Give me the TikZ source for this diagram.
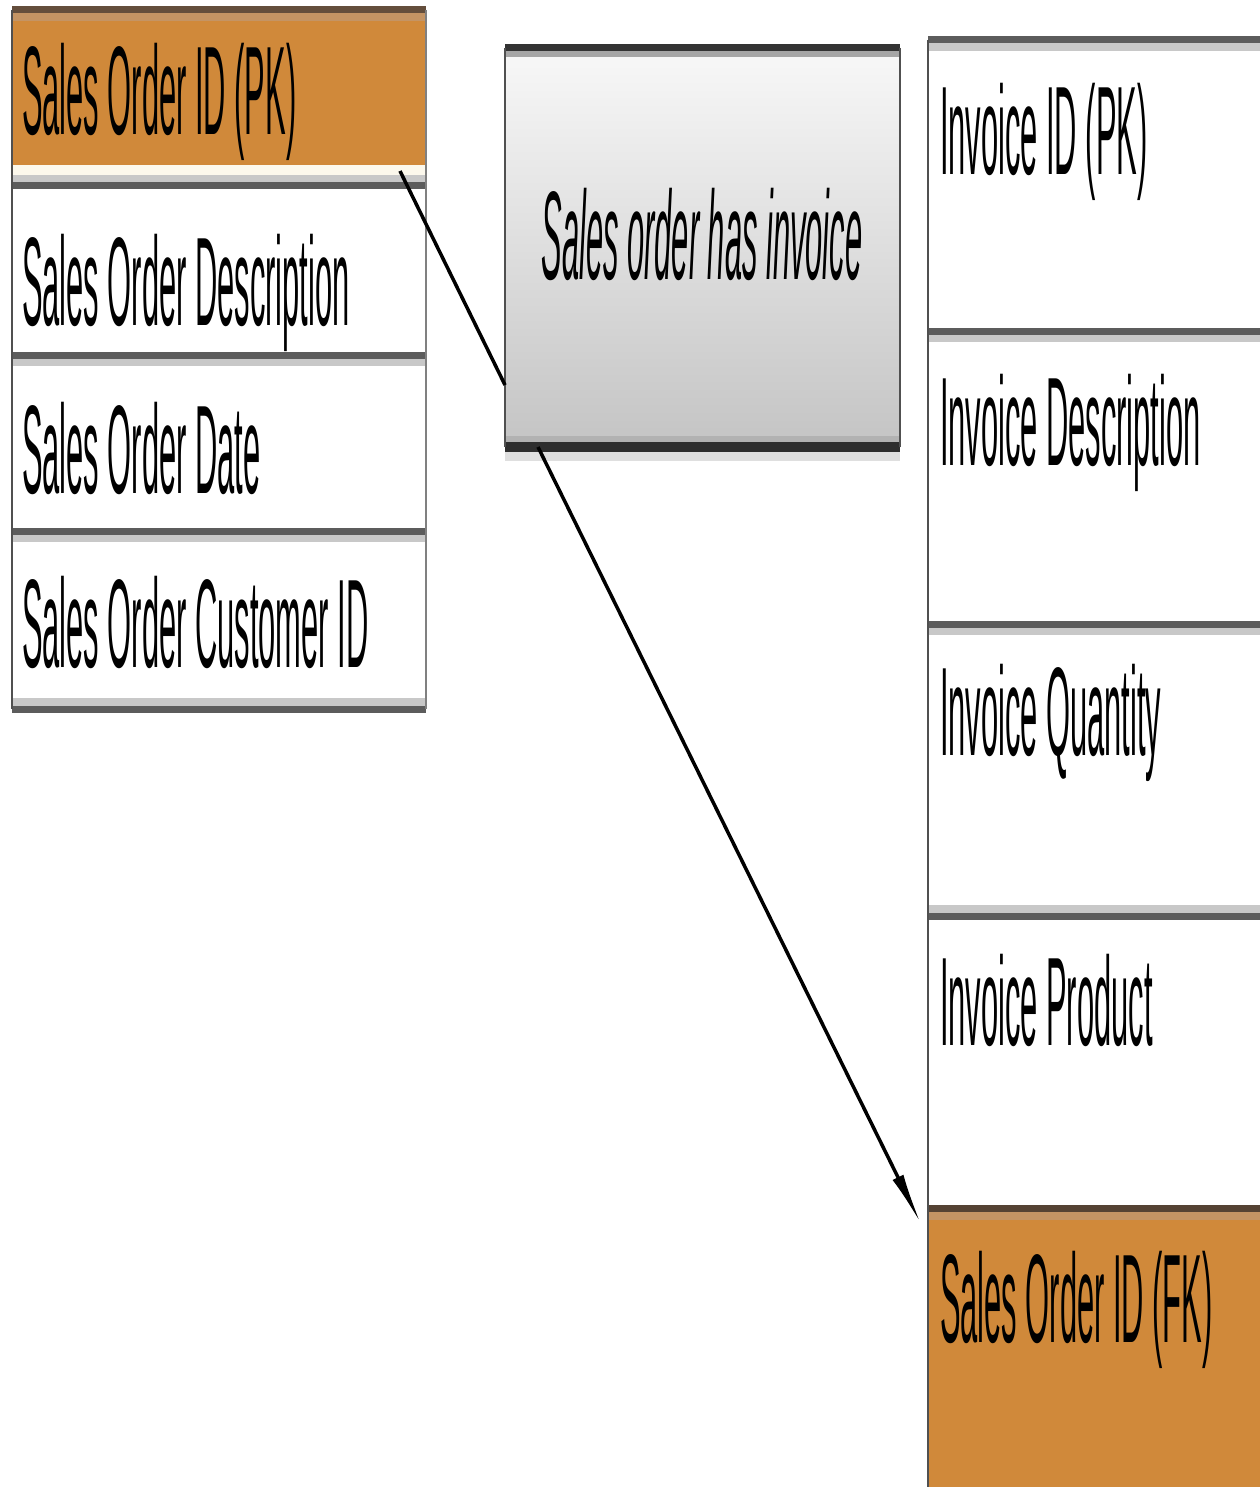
\documentclass[tikz,border=0pt]{standalone}
\usepackage{fontspec}
\setmainfont{Liberation Sans}
\usepackage{graphicx}
\usetikzlibrary{arrows.meta}

\definecolor{keyorange}{RGB}{208,137,58}
\definecolor{keyedge}{RGB}{100,78,60}
\definecolor{keyhalo}{RGB}{196,148,100}
\definecolor{rowedge}{RGB}{92,92,92}
\definecolor{rowhalo}{RGB}{200,200,200}
\definecolor{sideedge}{RGB}{80,80,80}
\definecolor{gapcream}{RGB}{252,248,236}
\definecolor{relTop}{RGB}{248,248,248}
\definecolor{relBottom}{RGB}{196,196,196}

% tall, tightly condensed lettering
\newcommand{\narrow}[1]{\scalebox{0.245}[1]{#1}}

\begin{document}
\begin{tikzpicture}[x=1pt, y=-1pt,
  every node/.style={inner sep=0pt, outer sep=0pt},
  fieldrow/.style={anchor=north west, fill=white},
  keyrow/.style={anchor=north west, fill=keyorange},
  fieldtext/.style={anchor=base west, font=\fontsize{126}{130}\selectfont},
  reltext/.style={anchor=base, font=\fontsize{126}{130}\selectfont\itshape},
  relbox/.style={anchor=north west, top color=relTop, bottom color=relBottom},
  edgeline/.style={line width=7pt, draw=rowedge},
  haloline/.style={line width=8pt, draw=rowhalo},
  sideline/.style={line width=2pt, draw=sideedge},
  conn/.style={line width=3.5pt, draw=black},
]
\useasboundingbox (0,0) rectangle (1259,1487);

% ---------- Sales order table ----------
\node[fieldrow, fill=gapcream, minimum width=414, minimum height=699] (soframe) at (12,10) {};
\node[keyrow,   minimum width=414, minimum height=155] (so1) at (12,10)  {};
\node[fieldrow, minimum width=414, minimum height=169] (so2) at (12,186) {};
\node[fieldrow, minimum width=414, minimum height=176] (so3) at (12,355) {};
\node[fieldrow, minimum width=414, minimum height=178] (so4) at (12,531) {};

\draw[haloline, draw=keyhalo] ([yshift=-7pt]so1.north west) -- ([yshift=-7pt]so1.north east);
\draw[edgeline, draw=keyedge] (so1.north west) -- (so1.north east);
\draw[haloline] ([yshift=7pt]so2.north west) -- ([yshift=7pt]so2.north east);
\draw[edgeline] (so2.north west) -- (so2.north east);
\foreach \r in {so3,so4}{
  \draw[haloline] ([yshift=-7pt]\r.north west) -- ([yshift=-7pt]\r.north east);
  \draw[edgeline] (\r.north west) -- (\r.north east);
}
\draw[haloline] ([yshift=7pt]soframe.south west) -- ([yshift=7pt]soframe.south east);
\draw[edgeline] (soframe.south west) -- (soframe.south east);
\draw[sideline] (soframe.north west) -- (soframe.south west);
\draw[sideline, draw=gray] (soframe.north east) -- (soframe.south east);

\node[fieldtext] (so1-t) at (22,135) {\narrow{Sales Order ID (PK)}};
\node[fieldtext] (so2-t) at (22,325) {\narrow{Sales Order Description}};
\node[fieldtext] (so3-t) at (22,493) {\narrow{Sales Order Date}};
\node[fieldtext] (so4-t) at (22,667) {\narrow{Sales Order Customer ID}};

% ---------- Relationship ----------
\node[relbox, minimum width=395, minimum height=399] (rel) at (505,48) {};
\draw[haloline, line width=6pt, draw=gray!70] ([yshift=-6pt]rel.north west) -- ([yshift=-6pt]rel.north east);
\draw[edgeline, draw=black!80] (rel.north west) -- (rel.north east);
\draw[haloline, line width=10pt, draw=gray!25] ([yshift=-9pt]rel.south west) -- ([yshift=-9pt]rel.south east);
\draw[haloline, line width=6pt, draw=gray!60] ([yshift=8pt]rel.south west) -- ([yshift=8pt]rel.south east);
\draw[edgeline, line width=10pt, draw=black!82] (rel.south west) -- (rel.south east);
\draw[sideline] (rel.north west) -- (rel.south west);
\draw[sideline] (rel.north east) -- (rel.south east);
\node[reltext] (rel-t) at (702,280) {\narrow{Sales order has invoice}};

% ---------- Invoice table ----------
\node[fieldrow, minimum width=340, minimum height=1460] (invframe) at (928,40) {};
\node[fieldrow, minimum width=340, minimum height=291] (inv1) at (928,40)   {};
\node[fieldrow, minimum width=340, minimum height=293] (inv2) at (928,331)  {};
\node[fieldrow, minimum width=340, minimum height=292] (inv3) at (928,624)  {};
\node[fieldrow, minimum width=340, minimum height=292] (inv4) at (928,916)  {};
\node[keyrow,   minimum width=340, minimum height=292] (inv5) at (928,1208) {};

\foreach \r in {inv1,inv2,inv3}{
  \draw[haloline] ([yshift=-7pt]\r.north west) -- ([yshift=-7pt]\r.north east);
  \draw[edgeline] (\r.north west) -- (\r.north east);
}
\draw[haloline] ([yshift=7pt]inv4.north west) -- ([yshift=7pt]inv4.north east);
\draw[edgeline] (inv4.north west) -- (inv4.north east);
\draw[haloline, draw=keyhalo] ([yshift=-8pt]inv5.north west) -- ([yshift=-8pt]inv5.north east);
\draw[edgeline, draw=keyedge!85!black] (inv5.north west) -- (inv5.north east);
\draw[sideline] (invframe.north west) -- (invframe.south west);

\node[fieldtext] (inv1-t) at (940,175)  {\narrow{Invoice ID (PK)}};
\node[fieldtext] (inv2-t) at (940,465)  {\narrow{Invoice Description}};
\node[fieldtext] (inv3-t) at (940,755)  {\narrow{Invoice Quantity}};
\node[fieldtext] (inv4-t) at (940,1045) {\narrow{Invoice Product}};
\node[fieldtext] (inv5-t) at (940,1342) {\narrow{Sales Order ID (FK)}};

% ---------- Connectors ----------
\draw[conn] ([shift={(-26,6)}]so1.south east) -- ([shift={(0,-62)}]rel.south west);
\draw[conn, -{Latex[length=52pt,width=12pt]}]
  ([xshift=33pt]rel.south west) -- ([shift={(-7,16)}]inv5.north west);
\end{tikzpicture}
\end{document}
